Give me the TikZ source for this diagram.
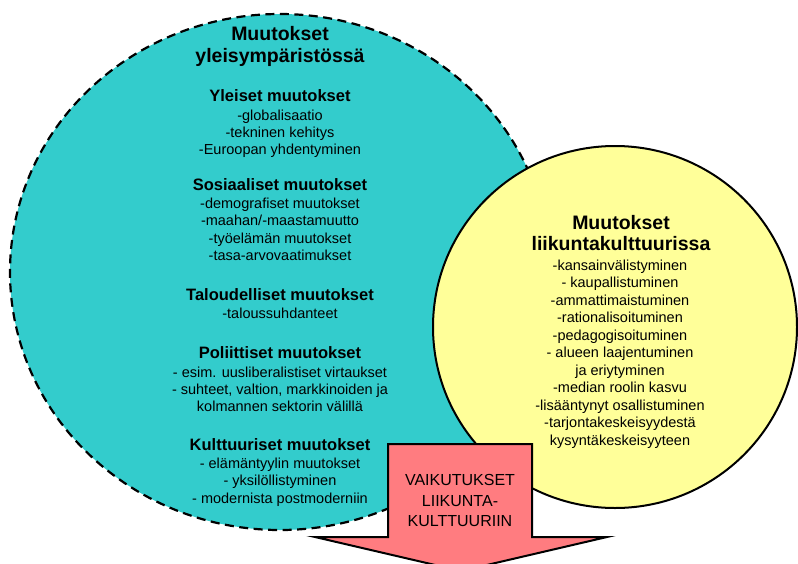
\documentclass[tikz,border=0pt]{standalone}
\usepackage{fontspec}
\setmainfont{Liberation Sans}
\definecolor{tealc}{HTML}{33CCCC}
\definecolor{yelc}{HTML}{FFFF99}
\definecolor{redc}{HTML}{FF7C80}
\begin{document}
\begin{tikzpicture}[x=1pt,y=-1pt,
  titletext/.style={anchor=base,font=\fontsize{19.5}{22}\selectfont\bfseries,inner sep=0},
  headtext/.style={anchor=base,font=\fontsize{16.5}{19}\selectfont\bfseries,inner sep=0},
  itemtext/.style={anchor=base,font=\fontsize{14.5}{17}\selectfont,inner sep=0},
  arrowtext/.style={anchor=base,font=\fontsize{16}{20}\selectfont,inner sep=0},
  tealbubble/.style={fill=tealc,draw=black,line width=2.2pt,dash pattern=on 9pt off 5.5pt},
  yelbubble/.style={fill=yelc,draw=black,line width=2pt},
  bigarrow/.style={fill=redc,draw=black,line width=2pt,line join=miter}
]
\useasboundingbox (0,0) rectangle (798,563);
\clip (0,0) rectangle (798,563);
% circles
\draw[tealbubble] (280,272) ellipse [x radius=270pt, y radius=258pt];
\draw[yelbubble] (615,327) ellipse [x radius=182pt, y radius=181pt];
% arrow
\draw[bigarrow] (388,444) -- (532,444) -- (532,537) -- (607,537) -- (461,571) -- (315,537) -- (388,537) -- cycle;

% teal texts
\node[titletext] (t1) at (280,40) {Muutokset};
\node[titletext] (t2) at (280,62.5) {yleisympäristössä};

\node[headtext] (h1) at (280,101) {Yleiset muutokset};
\foreach \t [count=\i] in {-globalisaatio,-tekninen kehitys,-Euroopan yhdentyminen}
  \node[itemtext] (a\i) at (280,{120+17*(\i-1)}) {\t};

\node[headtext] (h2) at (280,190) {Sosiaaliset muutokset};
\foreach \t [count=\i] in {-demografiset muutokset,-maahan/-maastamuutto,-työelämän muutokset,-tasa-arvovaatimukset}
  \node[itemtext] (b\i) at (280,{208+17.5*(\i-1)}) {\t};

\node[headtext] (h3) at (280,300) {Taloudelliset muutokset};
\node[itemtext] (c1) at (280,318) {-taloussuhdanteet};

\node[headtext] (h4) at (280,358) {Poliittiset muutokset};
\foreach \t [count=\i] in {- esim. uusliberalistiset virtaukset,{- suhteet, valtion, markkinoiden ja},kolmannen sektorin välillä}
  \node[itemtext] (d\i) at (280,{377+17*(\i-1)}) {\t};

\node[headtext] (h5) at (280,450) {Kulttuuriset muutokset};
\foreach \t [count=\i] in {- elämäntyylin muutokset,- yksilöllistyminen,- modernista postmoderniin}
  \node[itemtext] (e\i) at (280,{468+17.5*(\i-1)}) {\t};

% yellow texts
\node[titletext] (y1) at (621,229) {Muutokset};
\node[titletext] (y2) at (621,250.5) {liikuntakulttuurissa};
\foreach \t [count=\i] in {-kansainvälistyminen,- kaupallistuminen,-ammattimaistuminen,-rationalisoituminen,-pedagogisoituminen,- alueen laajentuminen,ja eriytyminen,-median roolin kasvu,-lisääntynyt osallistuminen,-tarjontakeskeisyydestä,kysyntäkeskeisyyteen}
  \node[itemtext] (f\i) at (620,{270+17.5*(\i-1)}) {\t};

% arrow texts
\node[arrowtext] (r1) at (460,485) {VAIKUTUKSET};
\node[arrowtext] (r2) at (460,506) {LIIKUNTA-};
\node[arrowtext] (r3) at (460,526.5) {KULTTUURIIN};
\end{tikzpicture}
\end{document}
